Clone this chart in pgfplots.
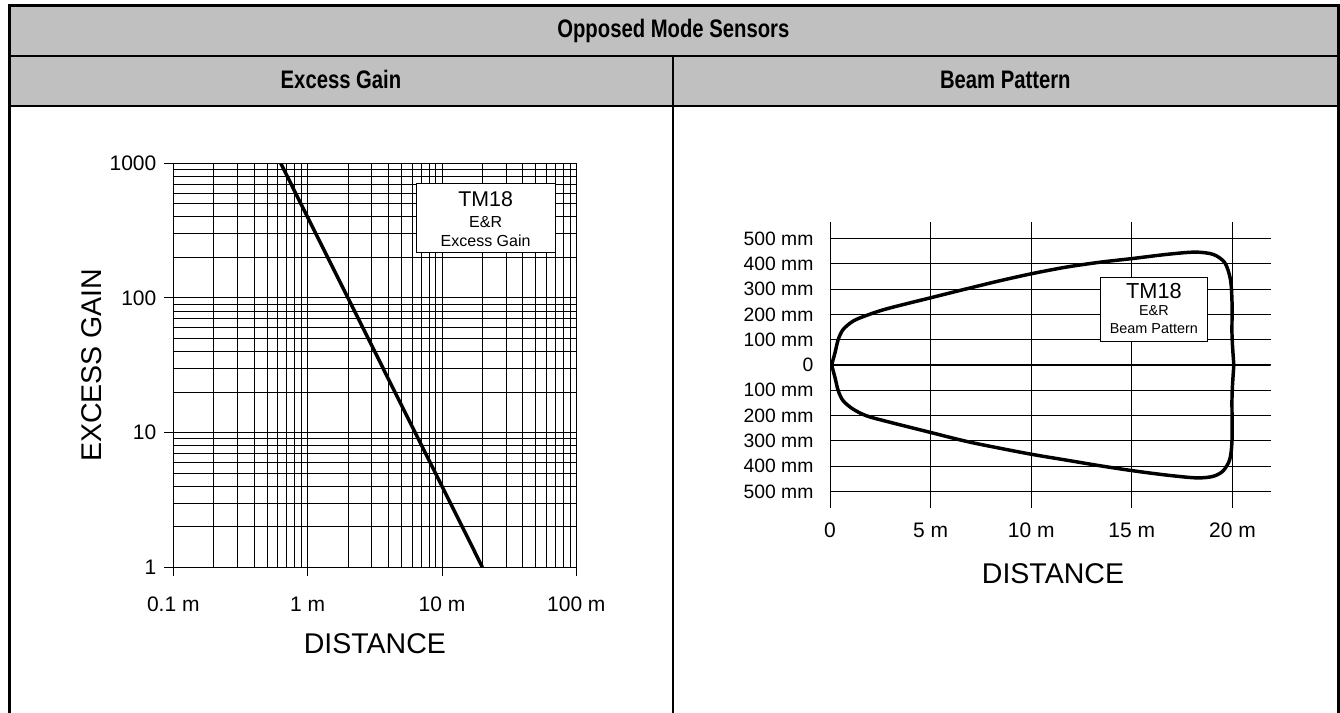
\documentclass[border=0pt]{standalone}
\usepackage{fontspec}
\setmainfont{Liberation Sans}
\newfontfamily\hdrfont[FakeStretch=0.8]{Liberation Sans}
\usepackage{pgfplots}
\pgfplotsset{compat=1.18}
\definecolor{hdrgray}{RGB}{192,192,192}
\begin{document}
\begin{tikzpicture}
\useasboundingbox (0,0) rectangle (1005pt,534.75pt);
% table frame
\fill[hdrgray] (6.75pt,455.25pt) rectangle (1003.5pt,530.25pt);
\draw[line width=1.5pt] (6.75pt,492.75pt) -- (1003.5pt,492.75pt);
\draw[line width=2pt] (6.75pt,455.25pt) -- (1003.5pt,455.25pt);
\draw[line width=1.5pt] (504.75pt,492.75pt) -- (504.75pt,0pt);
\draw[line width=2.25pt] (6.75pt,0pt) -- (6.75pt,530.25pt) -- (1003.5pt,530.25pt) -- (1003.5pt,0pt);
\node[anchor=base, inner sep=0pt, font=\hdrfont\bfseries\fontsize{19}{22}\selectfont] at (505pt,506.6pt) {Opposed Mode Sensors};
\node[anchor=base, inner sep=0pt, font=\hdrfont\bfseries\fontsize{19}{22}\selectfont] at (255.75pt,468.5pt) {Excess Gain};
\node[anchor=base, inner sep=0pt, font=\hdrfont\bfseries\fontsize{19}{22}\selectfont] at (754pt,468.5pt) {Beam Pattern};

% ---------- Excess gain (log-log) ----------
\begin{axis}[
  at={(130pt,109.3pt)}, anchor=south west, scale only axis,
  width=302.25pt, height=303pt,
  xmode=log, ymode=log,
  xmin=0.1, xmax=100, ymin=1, ymax=1000,
  xtick={0.1,1,10,100}, xticklabels={0.1 m,1 m,10 m,100 m},
  ytick={1,10,100,1000}, yticklabels={1,10,100,1000},
  minor xtick={0.2,0.3,0.4,0.5,0.6,0.7,0.8,0.9,2,3,4,5,6,7,8,9,20,30,40,50,60,70,80,90},
  minor ytick={2,3,4,5,6,7,8,9,20,30,40,50,60,70,80,90,200,300,400,500,600,700,800,900},
  grid=both,
  major grid style={black, line width=0.65pt},
  minor grid style={black, line width=0.65pt},
  axis line style={black, line width=0.65pt},
  tick align=outside, xtick pos=left, ytick pos=left,
  major tick length=6.75pt, minor tick length=0pt,
  tick style={black, line width=0.65pt},
  /pgf/number format/assume math mode=true,
  tick label style={font=\fontsize{15.75}{18}\selectfont},
  xticklabel style={anchor=base, yshift=-26.5pt},
  yticklabel style={xshift=-2.5pt},
  xlabel={DISTANCE},
  xlabel style={at={(axis description cs:0.5,-0.19)}, anchor=center, font=\fontsize{21.4}{24}\selectfont},
  ylabel={EXCESS GAIN},
  ylabel style={at={(axis description cs:-0.2025,0.5)}, anchor=center, font=\fontsize{21.4}{24}\selectfont},
]
\addplot[black, line width=2.6pt] coordinates {(0.63,1000) (20,1)};
\node[draw=black, line width=0.6pt, fill=white, minimum width=104.25pt, minimum height=52pt, inner sep=0pt] at (rel axis cs:0.775,0.865) {};
\node[anchor=base, inner sep=0pt, font=\fontsize{16}{18}\selectfont] at (rel axis cs:0.775,0.894) {TM18};
\node[anchor=base, inner sep=0pt, font=\fontsize{12}{14}\selectfont] at (rel axis cs:0.775,0.8416) {E\&R};
\node[anchor=base, inner sep=0pt, font=\fontsize{12}{14}\selectfont] at (rel axis cs:0.775,0.795) {Excess Gain};
\end{axis}

% ---------- Beam pattern ----------
\begin{axis}[
  at={(622.5pt,153.75pt)}, anchor=south west, scale only axis,
  width=330.5pt, height=214.5pt,
  xmin=0, xmax=21.9, ymin=-565, ymax=565,
  xtick={0,5,10,15,20}, xticklabels={0,5 m,10 m,15 m,20 m},
  ytick={-500,-400,-300,-200,-100,0,100,200,300,400,500},
  yticklabels={500 mm,400 mm,300 mm,200 mm,100 mm,0,100 mm,200 mm,300 mm,400 mm,500 mm},
  grid=major,
  major grid style={black, line width=0.75pt},
  axis line style={draw=none},
  major tick length=0pt, minor tick length=0pt,
  /pgf/number format/assume math mode=true,
  xticklabel style={font=\fontsize{15.75}{18}\selectfont, anchor=base, yshift=-22pt},
  yticklabel style={font=\fontsize{14.5}{17}\selectfont, xshift=-8.9pt},
  xlabel={DISTANCE},
  xlabel style={at={(axis description cs:0.506,-0.228)}, anchor=center, font=\fontsize{21.4}{24}\selectfont},
]
\addplot[black, line width=1.6pt] coordinates {(0,-565) (0,565)};
\addplot[black, line width=2pt] coordinates {(0,0) (21.9,0)};
\addplot[black, line width=2.6pt, smooth, tension=0.5, line join=round] coordinates {
 (0.08,0) (0.25,49) (0.41,101) (0.66,141) (1.16,174) (1.82,196) (2.82,222) (5.02,266) (6.79,301) (8.45,333) (10.1,362) (11.76,387) (13.41,406) (15.07,421) (16.73,437) (18.13,446) (19.04,437) (19.62,404) (19.9,338) (19.98,246) (19.98,114) (20.07,0)};
\addplot[black, line width=2.6pt, smooth, tension=0.5, line join=round] coordinates {
 (0.08,0) (0.25,-50) (0.41,-102) (0.66,-142) (1.16,-175) (1.82,-201) (2.82,-223) (5.02,-267) (6.79,-302) (8.45,-329) (10.1,-354) (11.76,-376) (13.41,-398) (15.07,-418) (16.73,-435) (18.21,-446) (19.04,-440) (19.54,-418) (19.87,-372) (19.98,-293) (19.98,-122) (20.07,0)};
\node[draw=black, line width=0.6pt, fill=white, minimum width=80pt, minimum height=48.3pt, inner sep=0pt] at (rel axis cs:0.735,0.694) {};
\node[anchor=base, inner sep=0pt, font=\fontsize{16.3}{18}\selectfont] at (rel axis cs:0.735,0.733) {TM18};
\node[anchor=base, inner sep=0pt, font=\fontsize{10.8}{13}\selectfont] at (rel axis cs:0.735,0.672) {E\&R};
\node[anchor=base, inner sep=0pt, font=\fontsize{10.8}{13}\selectfont] at (rel axis cs:0.735,0.611) {Beam Pattern};
\end{axis}
\end{tikzpicture}
\end{document}
